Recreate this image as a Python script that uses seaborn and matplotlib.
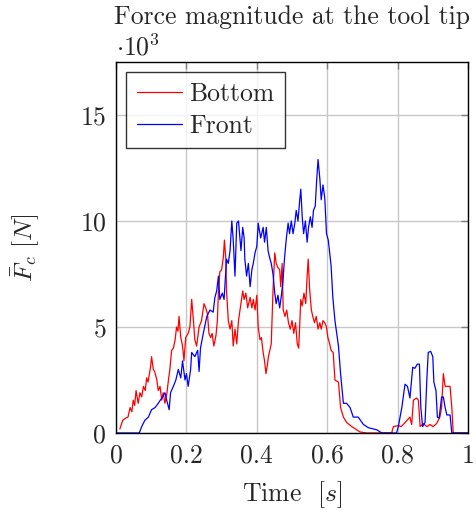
import numpy as np
import pandas as pd
import matplotlib
matplotlib.use('Agg')
import matplotlib.pyplot as plt
import seaborn as sns

# time [s] and force [x10^3 N]
bottom_t = [0.011, 0.019, 0.027, 0.034, 0.04, 0.045, 0.049, 0.053, 0.057, 0.063,
            0.068, 0.073, 0.078, 0.083, 0.087, 0.091, 0.095, 0.098, 0.101, 0.106,
            0.11, 0.116, 0.12, 0.125, 0.13, 0.134, 0.139, 0.144, 0.149, 0.153,
            0.158, 0.163, 0.168, 0.172, 0.176, 0.179, 0.184, 0.188, 0.191, 0.193,
            0.198, 0.205, 0.21, 0.215, 0.22, 0.224, 0.229, 0.236, 0.243, 0.25,
            0.255, 0.26, 0.264, 0.269, 0.273, 0.278, 0.284, 0.288, 0.291, 0.295,
            0.3, 0.305, 0.308, 0.312, 0.314, 0.319, 0.324, 0.329, 0.333, 0.338,
            0.343, 0.348, 0.355, 0.36, 0.364, 0.369, 0.374, 0.381, 0.386, 0.39,
            0.395, 0.4, 0.404, 0.409, 0.413, 0.418, 0.422, 0.426, 0.43, 0.433,
            0.437, 0.441, 0.446, 0.451, 0.455, 0.46, 0.465, 0.468, 0.472, 0.475,
            0.48, 0.485, 0.49, 0.495, 0.5, 0.505, 0.51, 0.515, 0.519, 0.525,
            0.529, 0.534, 0.539, 0.543, 0.546, 0.55, 0.555, 0.559, 0.564, 0.569,
            0.574, 0.579, 0.583, 0.588, 0.593, 0.598, 0.602, 0.607, 0.611, 0.617,
            0.622, 0.632, 0.638, 0.646, 0.655, 0.67, 0.693, 0.712, 0.783, 0.788,
            0.802, 0.81, 0.816, 0.835, 0.84, 0.845, 0.854, 0.859, 0.864, 0.873,
            0.883, 0.892, 0.901, 0.911, 0.92, 0.925, 0.93, 0.935, 0.94, 0.949,
            0.954, 0.958, 1.0]
bottom_f = [0.19, 0.6, 0.7, 0.75, 1.2, 1.0, 1.55, 1.3, 2.0, 1.4,
            1.9, 1.7, 2.2, 2.0, 2.6, 2.4, 2.8, 3.1, 3.6, 3.0,
            2.9, 2.5, 2.0, 2.2, 1.55, 1.9, 1.4, 1.8, 2.5, 3.0,
            3.9, 4.0, 4.4, 5.0, 4.8, 5.5, 4.5, 4.2, 3.8, 3.4,
            4.5, 4.7, 5.0, 6.3, 5.3, 4.4, 4.1, 5.0, 5.3, 6.1,
            5.9, 5.6, 4.7, 4.5, 4.7, 4.1, 4.6, 5.3, 6.7, 7.6,
            7.7, 8.3, 9.1, 8.2, 6.7, 5.3, 4.9, 5.3, 4.1, 4.9,
            4.2, 5.3, 6.1, 6.7, 6.3, 6.6, 5.9, 6.4, 5.9, 6.3,
            5.8, 6.5, 5.0, 4.4, 4.5, 3.8, 3.4, 2.8, 3.2, 3.6,
            3.9, 4.2, 6.7, 8.5, 8.0, 7.8, 7.7, 6.9, 8.0, 5.8,
            5.5, 5.8, 5.2, 4.9, 5.3, 4.7, 5.2, 4.2, 4.0, 6.3,
            6.0, 6.6, 6.1, 7.4, 8.2, 6.8, 5.8, 5.5, 5.2, 5.5,
            4.9, 5.2, 4.9, 5.3, 5.2, 5.0, 4.5, 4.2, 3.9, 3.8,
            2.5, 2.4, 1.2, 0.75, 0.5, 0.3, 0.05, 0.0, 0.0, 0.3,
            0.35, 0.3, 0.4, 0.75, 0.4, 1.55, 1.65, 1.55, 0.3, 0.45,
            0.3, 0.4, 0.3, 0.45, 0.75, 1.2, 2.8, 2.2, 2.2, 2.2,
            1.2, 0.0, 0.0]

front_t = [0.0, 0.066, 0.073, 0.082, 0.092, 0.101, 0.111, 0.12, 0.13, 0.139,
           0.144, 0.151, 0.155, 0.163, 0.17, 0.177, 0.184, 0.189, 0.196, 0.2,
           0.205, 0.212, 0.215, 0.224, 0.232, 0.236, 0.24, 0.248, 0.258, 0.267,
           0.276, 0.281, 0.286, 0.291, 0.295, 0.302, 0.307, 0.314, 0.319, 0.324,
           0.329, 0.333, 0.338, 0.343, 0.348, 0.355, 0.36, 0.364, 0.366, 0.371,
           0.376, 0.381, 0.386, 0.39, 0.395, 0.4, 0.404, 0.411, 0.418, 0.422,
           0.427, 0.432, 0.436, 0.441, 0.446, 0.451, 0.455, 0.46, 0.465, 0.47,
           0.474, 0.479, 0.484, 0.489, 0.493, 0.498, 0.503, 0.508, 0.512, 0.517,
           0.522, 0.525, 0.529, 0.533, 0.538, 0.543, 0.547, 0.552, 0.557, 0.561,
           0.566, 0.57, 0.574, 0.579, 0.583, 0.588, 0.593, 0.598, 0.603, 0.607,
           0.611, 0.616, 0.622, 0.632, 0.638, 0.646, 0.655, 0.665, 0.674, 0.688,
           0.703, 0.717, 0.741, 0.755, 0.797, 0.802, 0.812, 0.821, 0.828, 0.835,
           0.843, 0.849, 0.856, 0.862, 0.866, 0.871, 0.878, 0.883, 0.887, 0.894,
           0.9, 0.903, 0.909, 0.913, 0.918, 0.925, 0.93, 0.935, 0.94, 0.949,
           0.954, 1.0]
front_f = [0.0, 0.0, 0.3, 0.6, 0.75, 1.1, 1.2, 1.4, 1.65, 1.9,
           1.55, 1.1, 1.9, 2.2, 2.5, 3.0, 2.6, 3.4, 2.5, 2.8,
           2.2, 3.0, 3.8, 3.6, 3.9, 2.9, 4.0, 4.7, 5.5, 5.8,
           5.7, 6.4, 6.7, 7.4, 6.3, 6.6, 6.3, 8.2, 8.0, 8.6,
           10.0, 9.1, 7.4, 9.9, 10.0, 8.6, 9.7, 9.2, 8.2, 7.4,
           8.0, 6.9, 7.7, 8.0, 8.5, 8.8, 9.9, 9.2, 9.7, 9.0,
           9.7, 8.6, 8.3, 8.0, 7.5, 6.6, 6.1, 6.5, 5.9, 6.5,
           7.1, 8.3, 9.2, 9.9, 9.4, 10.0, 9.4, 9.9, 10.5, 10.0,
           11.0, 11.5, 10.2, 9.4, 10.0, 9.0, 9.7, 10.2, 9.7, 10.5,
           10.7, 11.9, 12.9, 12.0, 11.0, 11.7, 11.1, 9.4, 9.1, 8.5,
           7.9, 6.4, 5.3, 4.1, 2.8, 1.4, 1.4, 1.2, 0.75, 0.75,
           0.4, 0.25, 0.15, 0.0, 0.0, 0.3, 1.2, 2.3, 2.2, 1.65,
           3.1, 3.05, 3.25, 3.25, 1.2, 0.3, 0.5, 2.5, 3.8, 3.85,
           3.6, 2.4, 2.0, 0.75, 0.7, 1.7, 1.7, 1.2, 0.85, 0.85,
           0.0, 0.0]

df = pd.concat([
    pd.DataFrame({'t': bottom_t, 'F': bottom_f, 'side': 'Bottom'}),
    pd.DataFrame({'t': front_t, 'F': front_f, 'side': 'Front'}),
])

sns.set_style('white')
plt.rcParams['font.family'] = ['cmr10', 'DejaVu Serif']
plt.rcParams['mathtext.fontset'] = 'cm'
plt.rcParams['axes.formatter.use_mathtext'] = True

fs = 18.5
fig = plt.figure(figsize=(4.76, 5.14), dpi=100)
ax = fig.add_axes([0.2437, 0.1576, 0.7395, 0.7218])

sns.lineplot(data=df, x='t', y='F', hue='side', palette={'Bottom': 'red', 'Front': 'blue'},
             estimator=None, sort=False, lw=0.9, ax=ax)

ax.set_xlim(0, 1)
ax.set_ylim(0, 17.5)
ax.set_xticks([0, 0.2, 0.4, 0.6, 0.8, 1])
ax.set_xticklabels(['0', '0.2', '0.4', '0.6', '0.8', '1'])
ax.set_yticks([0, 5, 10, 15])
ax.grid(True, color='#c8c8c8', lw=1)
ax.tick_params(direction='in', length=5, width=1, color='#808080', labelsize=fs,
               top=True, right=True)
ax.tick_params(axis='x', pad=8)
ax.tick_params(axis='y', pad=7)
for s in ax.spines.values():
    s.set_color('black')
    s.set_linewidth(1)

ax.set_xlabel('Time  $[s]$', fontsize=fs, labelpad=8)
ax.set_ylabel(r'$\bar{F}_c\ [N]$', fontsize=fs, labelpad=28)
ax.set_title('Force magnitude at the tool tip', fontsize=fs, pad=27)
ax.text(0.0, 1.004, r'$\cdot 10^3$', transform=ax.transAxes, fontsize=fs,
        ha='left', va='bottom')

leg = ax.legend(loc='upper left', fontsize=fs, frameon=True, fancybox=False,
                edgecolor='black', handlelength=1.75, borderpad=0.4,
                labelspacing=0.3, handletextpad=0.3, borderaxespad=0.4)
leg.get_frame().set_linewidth(1)

fig.savefig('out.png', dpi=100)
